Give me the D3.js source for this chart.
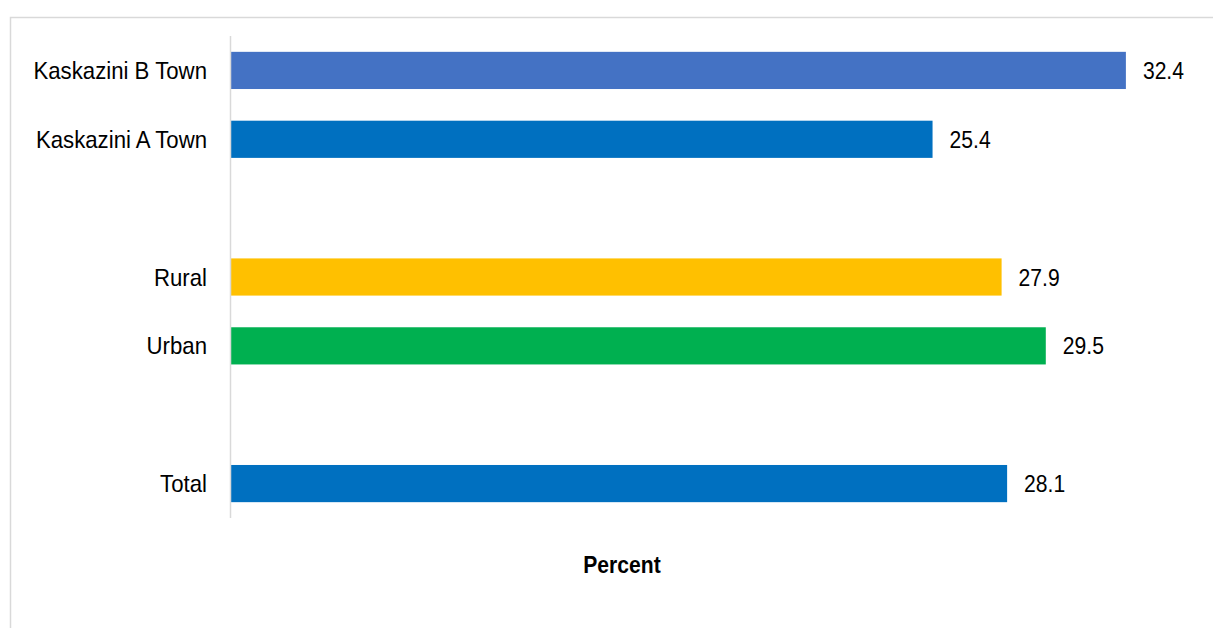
<!DOCTYPE html>
<html>
<head>
<meta charset="utf-8">
<script src="https://cdn.jsdelivr.net/npm/d3@7"></script>
<style>
  html, body { margin: 0; padding: 0; background: #ffffff; }
  svg { display: block; }
  text { font-family: "Liberation Sans", Arial, sans-serif; fill: #000; }
</style>
</head>
<body>
<svg id="chart" width="1213" height="628"></svg>
<script>
// ---- data ----
const slots = ["Kaskazini B Town", "Kaskazini A Town", "gap1", "Rural", "Urban", "gap2", "Total"];
const categories = ["Kaskazini B Town", "Kaskazini A Town", "Rural", "Urban", "Total"];
const values = [32.4, 25.4, 27.9, 29.5, 28.1];
const colors = ["#4472C4", "#0070C0", "#FFC000", "#00B050", "#0070C0"];
const axisTitle = "Percent";

const data = categories.map((c, i) => ({ cat: c, value: values[i], color: colors[i] }));

const svg = d3.select("#chart");
const SX = 0.88;     // horizontal condensing of values / title
const SXcat = 0.925; // horizontal condensing of category labels

// outer frame
svg.append("rect")
  .attr("x", 10.5).attr("y", 17.5)
  .attr("width", 1240).attr("height", 700)
  .attr("fill", "none").attr("stroke", "#d9d9d9").attr("stroke-width", 1.5);

const x = d3.scaleLinear().domain([0, 35]).range([231, 231 + 35 * 27.62]);
const y = d3.scaleBand().domain(slots).range([36, 518]).paddingInner(0.46).paddingOuter(0.23);

// bars
svg.append("g").selectAll("rect").data(data).join("rect")
  .attr("x", x(0))
  .attr("y", d => y(d.cat))
  .attr("width", d => x(d.value) - x(0))
  .attr("height", y.bandwidth())
  .attr("fill", d => d.color);

// vertical axis line
svg.append("line")
  .attr("x1", 230.5).attr("x2", 230.5)
  .attr("y1", 36).attr("y2", 518)
  .attr("stroke", "#d9d9d9").attr("stroke-width", 1.5);

// category labels
svg.append("g").selectAll("text").data(data).join("text")
  .attr("transform", d => `translate(207,${y(d.cat) + y.bandwidth() / 2 + 8.6}) scale(${SXcat},1)`)
  .attr("text-anchor", "end")
  .attr("font-size", 24)
  .text(d => d.cat);

// value labels
svg.append("g").selectAll("text").data(data).join("text")
  .attr("transform", d => `translate(${x(d.value) + 17},${y(d.cat) + y.bandwidth() / 2 + 8.6}) scale(${SX},1)`)
  .attr("text-anchor", "start")
  .attr("font-size", 24)
  .text(d => d.value.toFixed(1));

// axis title
svg.append("text")
  .attr("transform", `translate(622,573) scale(${SX},1)`)
  .attr("text-anchor", "middle")
  .attr("font-size", 24)
  .attr("font-weight", "bold")
  .text(axisTitle);
</script>
</body>
</html>
